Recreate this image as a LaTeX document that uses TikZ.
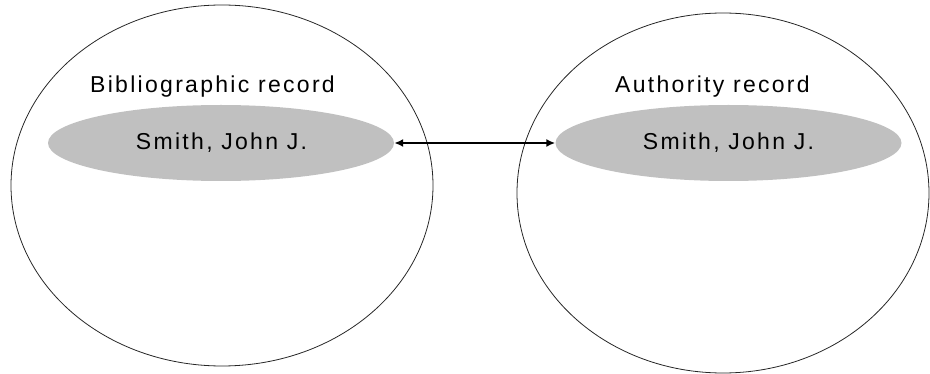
\documentclass[tikz,border=0pt]{standalone}
\usepackage{fontspec}
\setmainfont{Liberation Sans}
\newfontfamily\widesans[LetterSpace=10]{Liberation Sans}
\usetikzlibrary{shapes.geometric,arrows.meta}
\definecolor{namegray}{HTML}{C0C0C0}
\tikzset{
  record/.style={ellipse, draw=black!85, line width=0.8pt, inner sep=0pt},
  namebox/.style={ellipse, fill=namegray, draw=none, inner sep=0pt, minimum width=346pt, minimum height=76pt},
  label/.style={font=\widesans\fontsize{23}{26}\selectfont, text=black, anchor=base, inner sep=0pt},
  link/.style={{Latex[length=9pt,width=8pt]}-{Latex[length=9pt,width=8pt]}, line width=2pt, black}
}
\begin{document}
\begin{tikzpicture}[x=1pt,y=-1pt]
\useasboundingbox (0,0) rectangle (930,374);
\node[record, minimum width=422pt, minimum height=361pt] (bib) at (222,185.5) {};
\node[record, minimum width=412pt, minimum height=360pt] (auth) at (723,193) {};
\node[namebox] (gl) at (221,143) {};
\node[namebox] (gr) at (728.5,143) {};
\node[label] (bt) at (212.5,93) {Bibliographic record};
\node[label] (at) at (712.5,93) {Authority record};
\node[label] (sl) at (221.5,149.5) {Smith, John J.};
\node[label] (sr) at (728.5,149.5) {Smith, John J.};
\draw[link] (gl.east) -- (gr.west);
\end{tikzpicture}
\end{document}
